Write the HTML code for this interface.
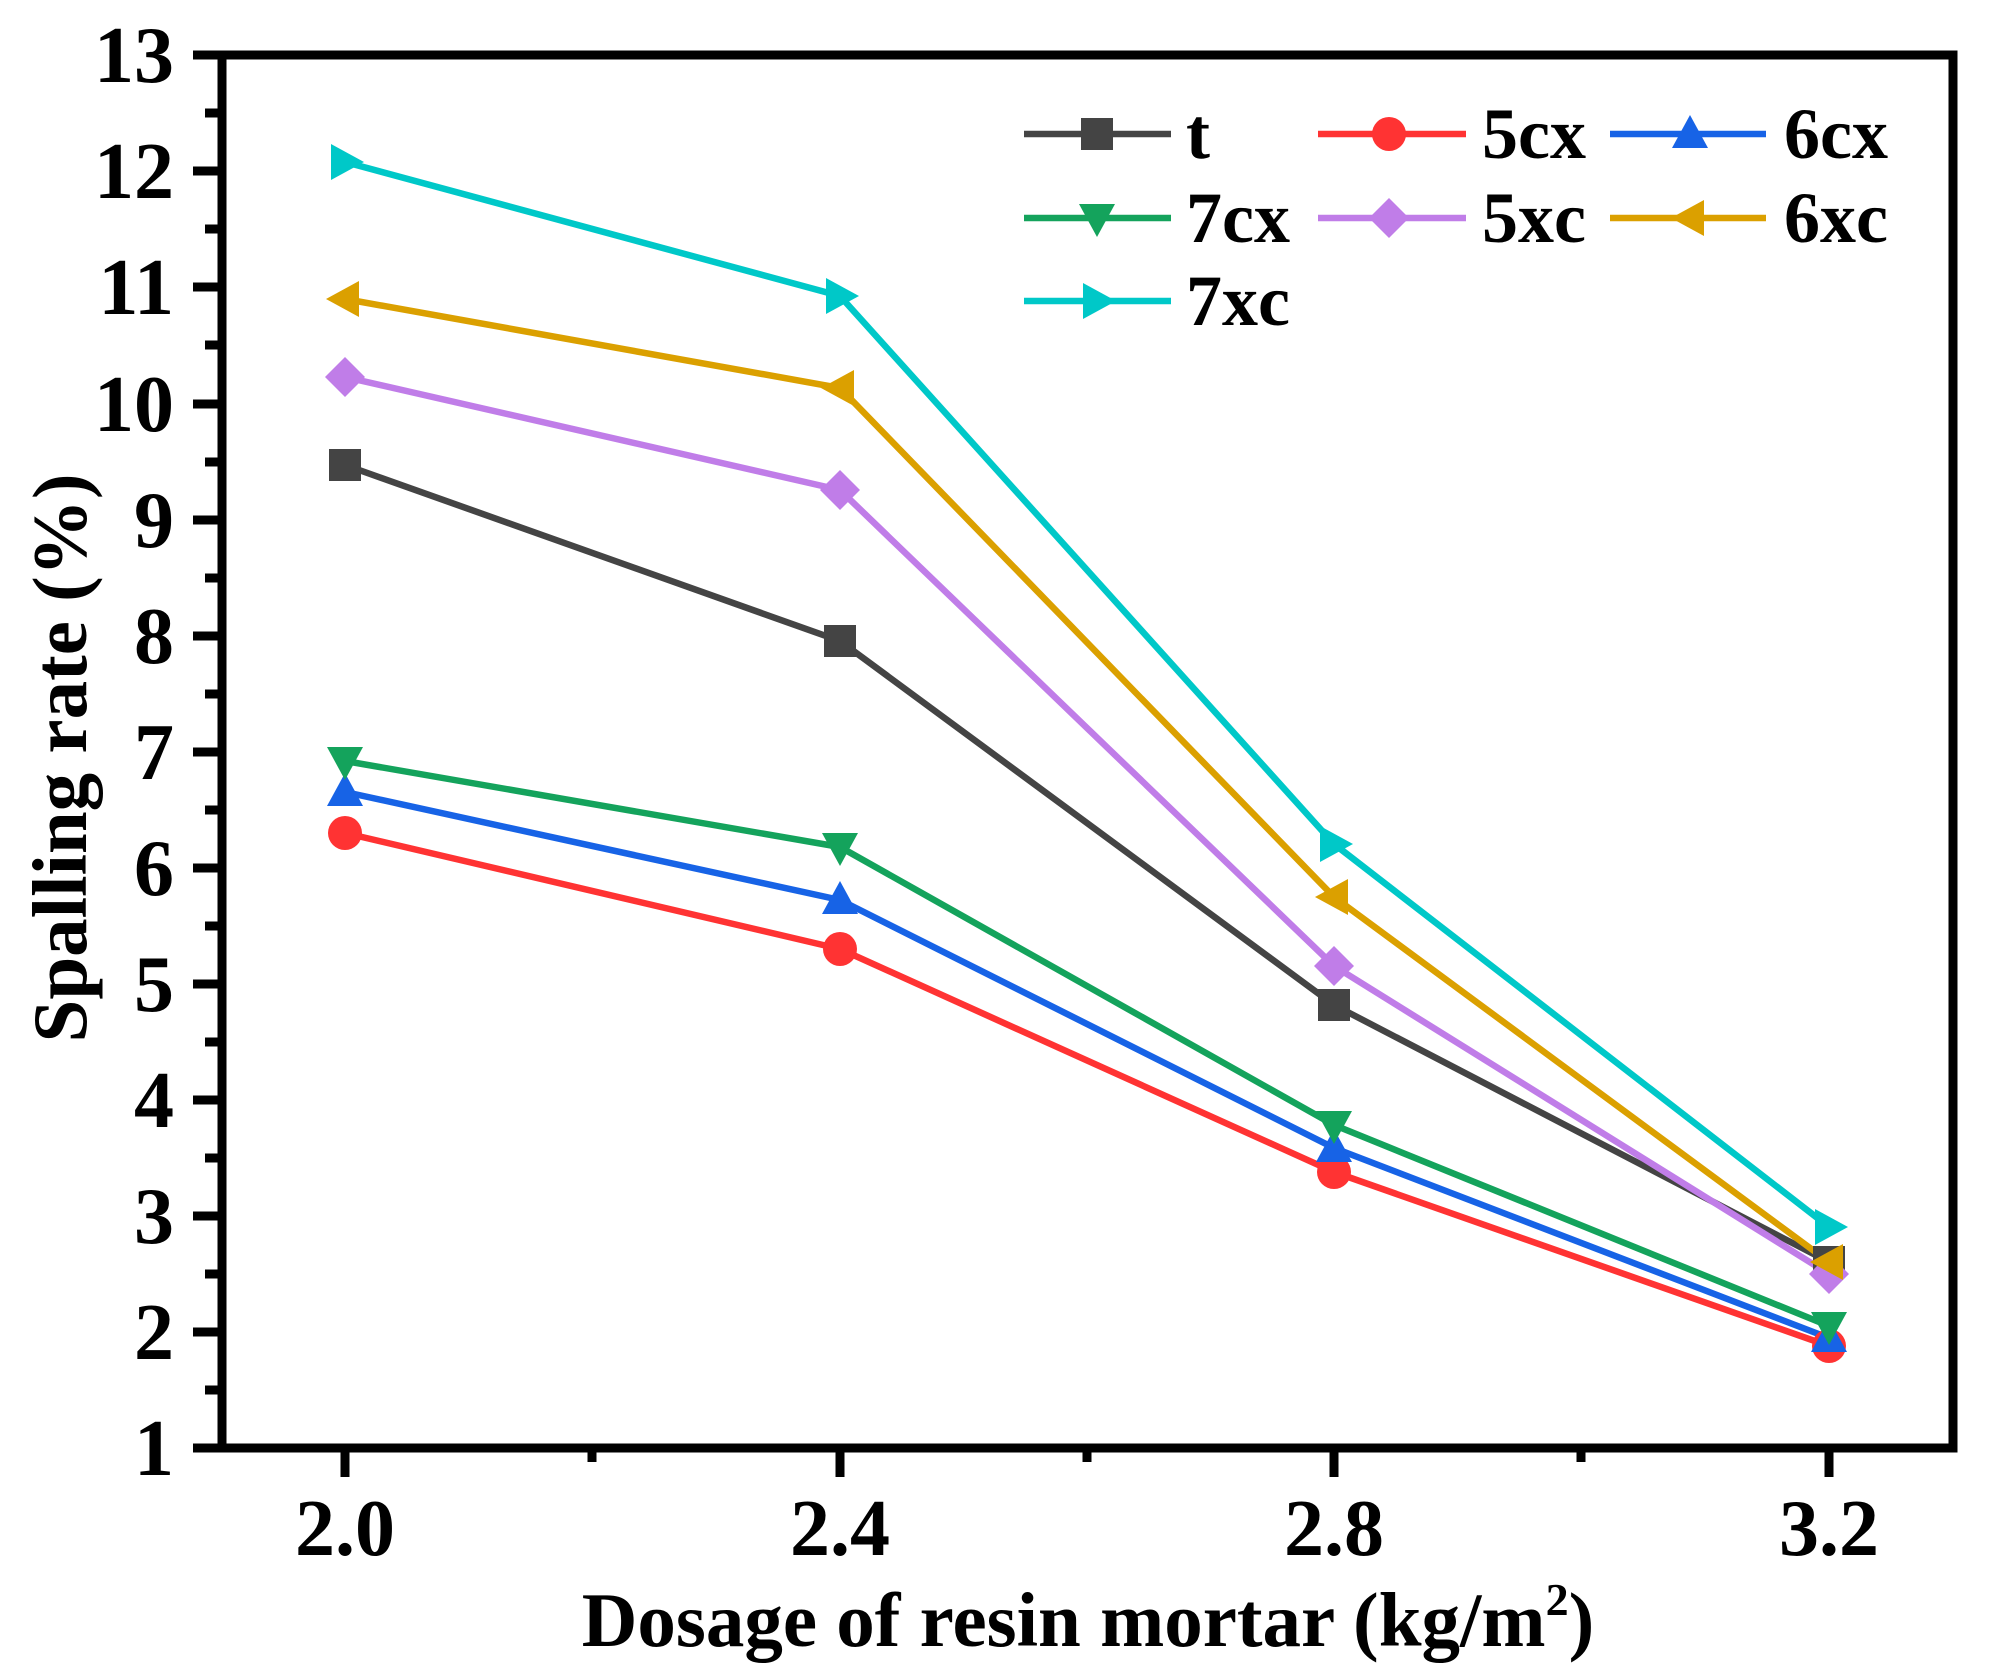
<!DOCTYPE html>
<html><head><meta charset="utf-8"><style>html,body{margin:0;padding:0;background:#fff}svg{display:block}</style></head>
<body>
<svg width="1997" height="1670" viewBox="0 0 1997 1670" xmlns="http://www.w3.org/2000/svg" font-family="'Liberation Serif',serif" font-weight="bold">
<rect width="1997" height="1670" fill="#fff"/>
<g stroke="#000" stroke-width="9" fill="none">
<rect x="222" y="55" width="1731" height="1393"/>
<path d="M193 55H222M193 171H222M193 287H222M193 404H222M193 520H222M193 636H222M193 752H222M193 868H222M193 984H222M193 1100H222M193 1216H222M193 1332H222M193 1448H222"/>
<path d="M205 113H222M205 229H222M205 345H222M205 462H222M205 578H222M205 694H222M205 810H222M205 926H222M205 1042H222M205 1158H222M205 1274H222M205 1390H222"/>
<path d="M345 1448V1477M840 1448V1477M1334 1448V1477M1829 1448V1477M592 1448V1462M1087 1448V1462M1581 1448V1462"/>
</g>
<g font-size="80" text-anchor="end" fill="#000">
<text x="174" y="82">13</text><text x="174" y="198">12</text><text x="174" y="314">11</text><text x="174" y="431">10</text><text x="174" y="547">9</text><text x="174" y="663">8</text><text x="174" y="779">7</text><text x="174" y="895">6</text><text x="174" y="1011">5</text><text x="174" y="1127">4</text><text x="174" y="1243">3</text><text x="174" y="1359">2</text><text x="174" y="1475">1</text>
</g>
<g font-size="80" text-anchor="middle" fill="#000">
<text x="345" y="1555">2.0</text><text x="840" y="1555">2.4</text><text x="1334" y="1555">2.8</text><text x="1829" y="1555">3.2</text>
<text x="1088" y="1646" font-size="77">Dosage of resin mortar (kg/m<tspan font-size="46" dy="-31">2</tspan><tspan dy="31">)</tspan></text>
<text transform="translate(86,758) rotate(-90)" font-size="77">Spalling rate (%)</text>
</g>
<defs>
<path id="sq" d="M-16 -16H16V16H-16Z"/>
<circle id="ci" r="17"/>
<path id="tu" d="M0 -19L18 14H-18Z"/>
<path id="td" d="M0 19L18 -14H-18Z"/>
<path id="di" d="M0 -20L20 0L0 20L-20 0Z"/>
<path id="tl" d="M-19 0L14 -18V18Z"/>
<path id="tr" d="M19 0L-14 -18V18Z"/>
</defs>
<g fill="none" stroke-width="6.5" stroke-linejoin="round">
<polyline stroke="#444" points="345,465 840,641 1334,1005 1829,1262"/>
<polyline stroke="#f33" points="345,833 840,949 1334,1172 1829,1346"/>
<polyline stroke="#1763e6" points="345,792 840,900 1334,1148 1829,1338"/>
<polyline stroke="#14a35c" points="345,761 840,847 1334,1125 1829,1326"/>
<polyline stroke="#c07de8" points="345,377 840,490 1334,966 1829,1274"/>
<polyline stroke="#dba000" points="345,299 840,388 1334,897 1829,1262"/>
<polyline stroke="#00c8c8" points="345,162 840,296 1334,844 1829,1227"/>
</g>
<g fill="#444"><use href="#sq" x="345" y="465"/><use href="#sq" x="840" y="641"/><use href="#sq" x="1334" y="1005"/><use href="#sq" x="1829" y="1262"/></g>
<g fill="#f33"><use href="#ci" x="345" y="833"/><use href="#ci" x="840" y="949"/><use href="#ci" x="1334" y="1172"/><use href="#ci" x="1829" y="1346"/></g>
<g fill="#1763e6"><use href="#tu" x="345" y="792"/><use href="#tu" x="840" y="900"/><use href="#tu" x="1334" y="1148"/><use href="#tu" x="1829" y="1338"/></g>
<g fill="#14a35c"><use href="#td" x="345" y="761"/><use href="#td" x="840" y="847"/><use href="#td" x="1334" y="1125"/><use href="#td" x="1829" y="1326"/></g>
<g fill="#c07de8"><use href="#di" x="345" y="377"/><use href="#di" x="840" y="490"/><use href="#di" x="1334" y="966"/><use href="#di" x="1829" y="1274"/></g>
<g fill="#dba000"><use href="#tl" x="345" y="299"/><use href="#tl" x="840" y="388"/><use href="#tl" x="1334" y="897"/><use href="#tl" x="1829" y="1262"/></g>
<g fill="#00c8c8"><use href="#tr" x="345" y="162"/><use href="#tr" x="840" y="296"/><use href="#tr" x="1334" y="844"/><use href="#tr" x="1829" y="1227"/></g>
<g stroke-width="6.5">
<line x1="1024" y1="134" x2="1171" y2="134" stroke="#444"/><use href="#sq" x="1097" y="134" fill="#444"/>
<line x1="1318" y1="134" x2="1466" y2="134" stroke="#f33"/><use href="#ci" x="1389" y="134" fill="#f33"/>
<line x1="1610" y1="134" x2="1766" y2="134" stroke="#1763e6"/><use href="#tu" x="1690" y="134" fill="#1763e6"/>
<line x1="1024" y1="218" x2="1171" y2="218" stroke="#14a35c"/><use href="#td" x="1097" y="218" fill="#14a35c"/>
<line x1="1318" y1="218" x2="1466" y2="218" stroke="#c07de8"/><use href="#di" x="1389" y="218" fill="#c07de8"/>
<line x1="1610" y1="218" x2="1766" y2="218" stroke="#dba000"/><use href="#tl" x="1690" y="218" fill="#dba000"/>
<line x1="1024" y1="301" x2="1171" y2="301" stroke="#00c8c8"/><use href="#tr" x="1097" y="301" fill="#00c8c8"/>
</g>
<g font-size="72" fill="#000">
<text x="1186" y="158">t</text><text x="1482" y="158">5cx</text><text x="1784" y="158">6cx</text>
<text x="1186" y="242">7cx</text><text x="1482" y="242">5xc</text><text x="1784" y="242">6xc</text>
<text x="1186" y="325">7xc</text>
</g>
</svg>
</body></html>
